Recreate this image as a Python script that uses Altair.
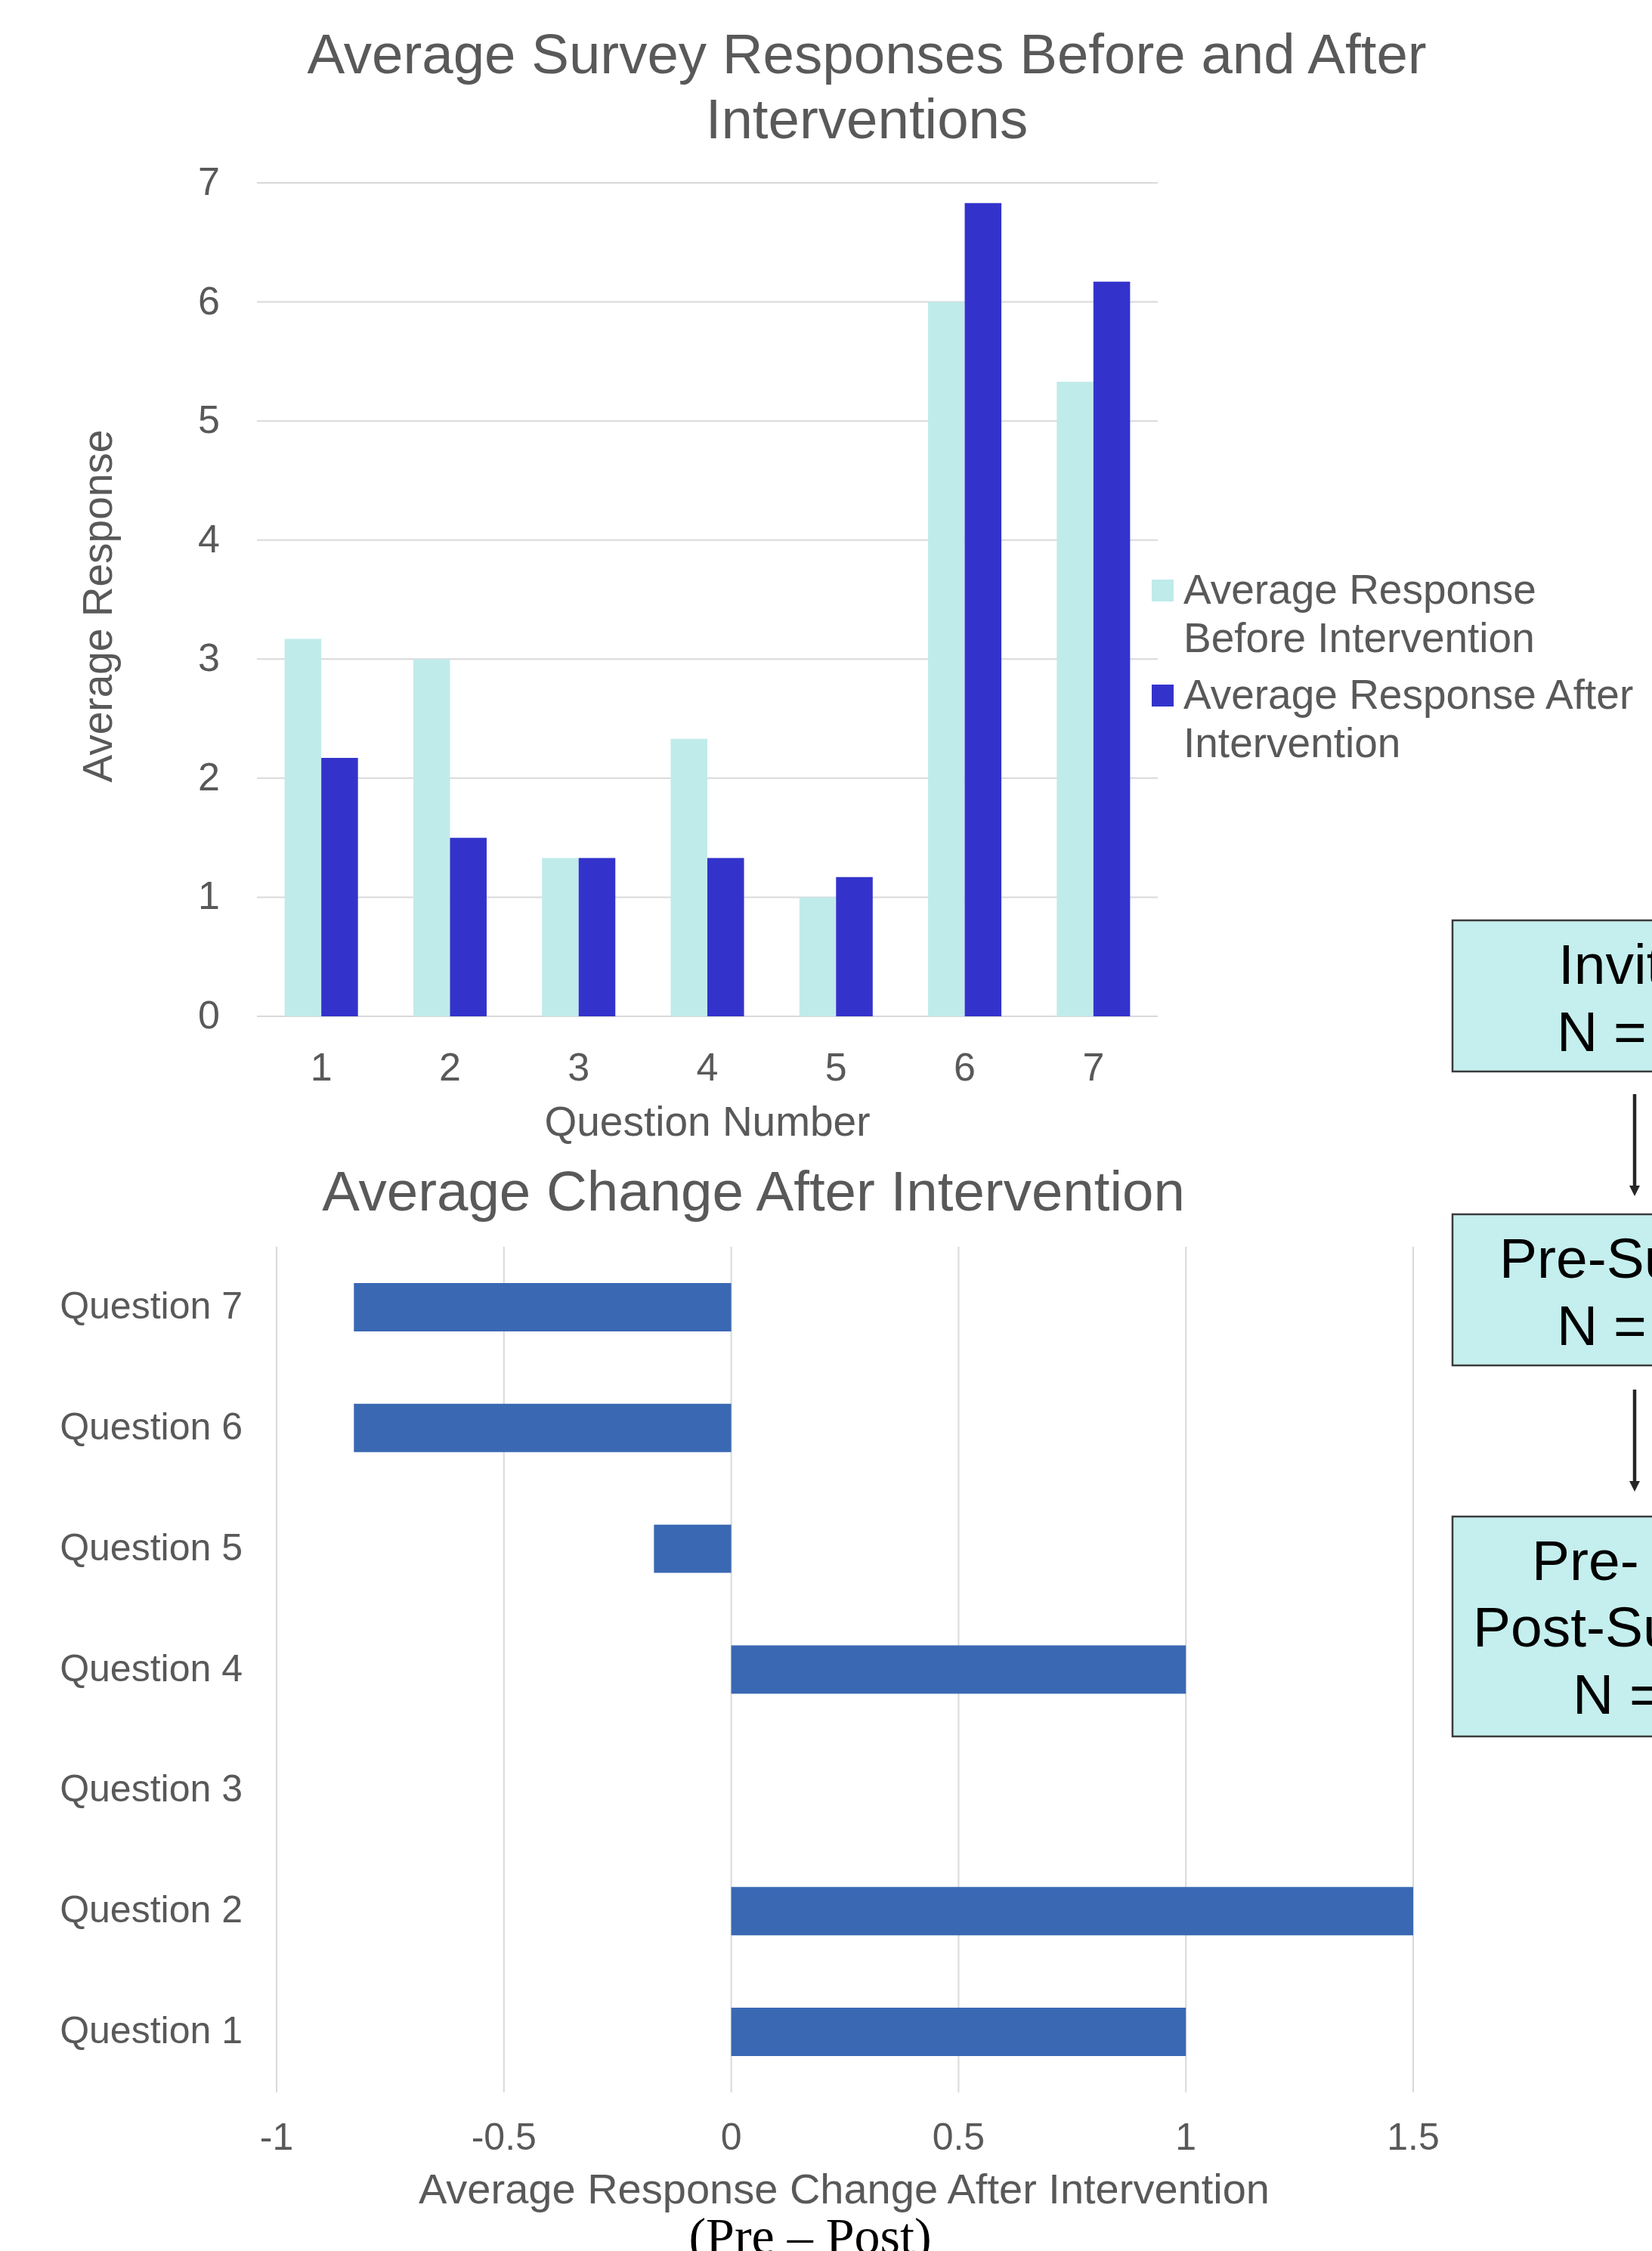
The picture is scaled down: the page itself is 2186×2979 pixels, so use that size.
import altair as alt
import pandas as pd

# ---------------- data ----------------
question_numbers = ["1", "2", "3", "4", "5", "6", "7"]
before_values = [3.17, 3.0, 1.33, 2.33, 1.0, 6.0, 5.33]
after_values = [2.17, 1.5, 1.33, 1.33, 1.17, 6.83, 6.17]
series_names = ["Average Response Before Intervention", "Average Response After Intervention"]
series_labels = ["Average Response\nBefore Intervention", "Average Response After\nIntervention"]
series_colors = ["#C0EBEB", "#3333CC"]
top_y_ticks = [0, 1, 2, 3, 4, 5, 6, 7]

change_questions = ["Question 1", "Question 2", "Question 3", "Question 4",
                    "Question 5", "Question 6", "Question 7"]
change_values = [1.0, 1.5, 0.0, 1.0, -0.17, -0.83, -0.83]
change_ticks = [-1, -0.5, 0, 0.5, 1, 1.5]
change_tick_labels = ["-1", "-0.5", "0", "0.5", "1", "1.5"]

# visible (cropped) text of the flowchart boxes
flow_box1 = ["Invit", "N ="]
flow_box2 = ["Pre-Su", "N ="]
flow_box3 = ["Pre-", "Post-Su", "N ="]

# ---------------- style ----------------
FONT = "Liberation Sans"
SERIF = "Liberation Serif"
GRAY = "#595959"
GRID = "#D9D9D9"
BAR2 = "#3A68B3"
BOX_FILL = "#C4EFEE"
BOX_STROKE = "#3A3A3A"
ARROW = "#262626"

X1 = dict(domain=question_numbers, range=[340, 1532], paddingInner=0.43, paddingOuter=0.215)
Y1 = dict(domain=[0, 7], range=[1345, 242], nice=False, zero=True)
X2 = dict(domain=[-1, 1.5], range=[366, 1870], nice=False, zero=False)
Y2 = dict(domain=change_questions[::-1], range=[1650, 2769], paddingInner=0.6, paddingOuter=0.3)
LEG = dict(type="point", domain=series_names, range=[781.5, 920.5], padding=0)
COLOR = alt.Color("series:N", scale=alt.Scale(domain=series_names, range=series_colors), legend=None)


def label(text, x, y, size, color=GRAY, align="center", baseline="alphabetic", angle=0, font=FONT):
    kw = dict(align=align, baseline=baseline, fontSize=size, color=color, font=font)
    if angle:
        kw["angle"] = angle
    return alt.Chart(pd.DataFrame({"t": [text]})).mark_text(**kw).encode(
        x=alt.value(x), y=alt.value(y), text=alt.Text("t:N"))


layers = []

# ---------- top chart ----------
layers.append(label("Average Survey Responses Before and After", 1147, 97, 74.5))
layers.append(label("Interventions", 1147, 183, 74.5))

layers.append(
    alt.Chart(pd.DataFrame({"v": top_y_ticks})).mark_rule(color=GRID, strokeWidth=2).encode(
        y=alt.Y("v:Q", scale=alt.Scale(**Y1), axis=None),
        x=alt.value(340), x2=alt.value(1532))
)

top_df = pd.DataFrame({
    "question": question_numbers * 2,
    "series": [series_names[0]] * len(before_values) + [series_names[1]] * len(after_values),
    "value": before_values + after_values,
})
layers.append(
    alt.Chart(top_df).mark_bar().encode(
        x=alt.X("question:N", scale=alt.Scale(**X1), axis=None),
        xOffset=alt.XOffset("series:N", scale=alt.Scale(domain=series_names)),
        y=alt.Y("value:Q", scale=alt.Scale(**Y1), axis=None),
        color=COLOR,
    )
)

layers.append(
    alt.Chart(pd.DataFrame({"v": top_y_ticks})).mark_text(
        align="right", baseline="middle", fontSize=52, color=GRAY, font=FONT).encode(
        y=alt.Y("v:Q", scale=alt.Scale(**Y1), axis=None),
        x=alt.value(291), text=alt.Text("v:Q"))
)
layers.append(
    alt.Chart(pd.DataFrame({"question": question_numbers})).mark_text(
        align="center", baseline="middle", fontSize=52, color=GRAY, font=FONT).encode(
        x=alt.X("question:N", scale=alt.Scale(**X1), axis=None),
        y=alt.value(1414), text=alt.Text("question:N"))
)
layers.append(label("Average Response", 131, 802, 55, angle=270, baseline="middle"))
layers.append(label("Question Number", 936, 1503, 55))

# legend
leg_df = pd.DataFrame({"series": series_names, "label": series_labels})
layers.append(
    alt.Chart(leg_df).mark_square(size=841, opacity=1).encode(
        x=alt.value(1538.5),
        y=alt.Y("series:N", scale=alt.Scale(**LEG), axis=None),
        color=COLOR)
)
layers.append(
    alt.Chart(leg_df).mark_text(align="left", baseline="alphabetic", dy=17.5, lineBreak="\n",
                                lineHeight=64, fontSize=55, color=GRAY, font=FONT).encode(
        x=alt.value(1566),
        y=alt.Y("series:N", scale=alt.Scale(**LEG), axis=None),
        text=alt.Text("label:N"))
)

# ---------- bottom chart ----------
layers.append(label("Average Change After Intervention", 997, 1602, 74.5))
layers.append(
    alt.Chart(pd.DataFrame({"v": change_ticks})).mark_rule(color=GRID, strokeWidth=2).encode(
        x=alt.X("v:Q", scale=alt.Scale(**X2), axis=None),
        y=alt.value(1650), y2=alt.value(2769))
)
layers.append(
    alt.Chart(pd.DataFrame({"q": change_questions, "change": change_values})).mark_bar(color=BAR2).encode(
        y=alt.Y("q:N", scale=alt.Scale(**Y2), axis=None),
        x=alt.X("change:Q", scale=alt.Scale(**X2), axis=None))
)
layers.append(
    alt.Chart(pd.DataFrame({"q": change_questions})).mark_text(
        align="right", baseline="middle", fontSize=50, color=GRAY, font=FONT).encode(
        y=alt.Y("q:N", scale=alt.Scale(**Y2), axis=None),
        x=alt.value(321), text=alt.Text("q:N"))
)
layers.append(
    alt.Chart(pd.DataFrame({"v": change_ticks, "lab": change_tick_labels})).mark_text(
        align="center", baseline="alphabetic", fontSize=50, color=GRAY, font=FONT).encode(
        x=alt.X("v:Q", scale=alt.Scale(**X2), axis=None),
        y=alt.value(2845), text=alt.Text("lab:N"))
)
layers.append(label("Average Response Change After Intervention", 1117, 2916, 56))
layers.append(label("(Pre \u2013 Post)", 1072, 2982, 68, color="#000000", font=SERIF))

# ---------- flowchart (cropped at right edge) ----------
def box(y0, y1):
    return alt.Chart(pd.DataFrame({"b": [0]})).mark_rect(
        fill=BOX_FILL, stroke=BOX_STROKE, strokeWidth=2.5).encode(
        x=alt.value(1922), x2=alt.value(2440), y=alt.value(y0), y2=alt.value(y1))


def arrow(y0, y1):
    shaft = alt.Chart(pd.DataFrame({"b": [0]})).mark_rule(color=ARROW, strokeWidth=4.5).encode(
        x=alt.value(2163), y=alt.value(y0), y2=alt.value(y1 - 12))
    head = alt.Chart(pd.DataFrame({"b": [0]})).mark_point(
        shape="M-1,-1L1,-1L0,1Z", filled=True, size=196, color=ARROW, opacity=1).encode(
        x=alt.value(2163), y=alt.value(y1 - 7))
    return [shaft, head]


layers.append(box(1218, 1418))
layers.append(box(1607, 1807))
layers.append(box(2007, 2298))
layers += arrow(1448, 1583)
layers += arrow(1839, 1974)

for txt, x, y in zip(flow_box1, [2062, 2060], [1302, 1391]):
    layers.append(label(txt, x, y, 75, color="#000000", align="left"))
for txt, x, y in zip(flow_box2, [1984, 2060], [1691, 1780]):
    layers.append(label(txt, x, y, 75, color="#000000", align="left"))
for txt, x, y in zip(flow_box3, [2027, 1949, 2081], [2091, 2179, 2268]):
    layers.append(label(txt, x, y, 75, color="#000000", align="left"))

chart = alt.layer(*layers).resolve_scale(x="independent", y="independent").properties(
    width=2186, height=2979,
    autosize=alt.AutoSizeParams(type="none"),
    padding=0,
    background="white",
).configure_view(stroke=None)

chart.save("out.html", embed_options={"renderer": "svg", "actions": False})
